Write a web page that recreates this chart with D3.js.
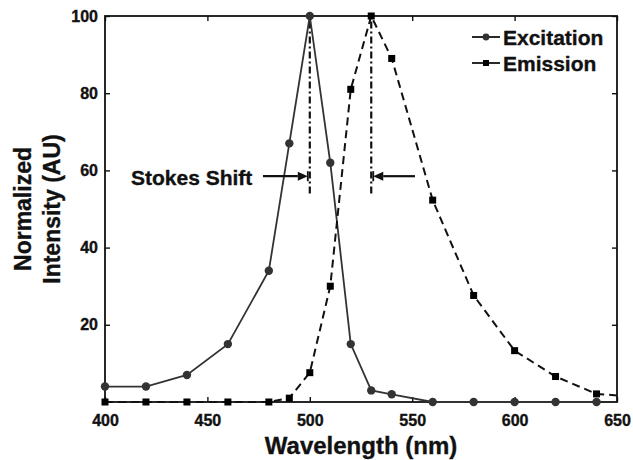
<!DOCTYPE html>
<html>
<head>
<meta charset="utf-8">
<script src="https://cdn.jsdelivr.net/npm/d3@7"></script>
<style>
  html, body { margin: 0; padding: 0; background: #fff; }
  svg { display: block; font-family: "Liberation Sans", Arial, Helvetica, sans-serif; font-weight: bold; }
  svg text { stroke: #111; stroke-width: 0.35px; }
</style>
</head>
<body>
<svg id="chart" width="633" height="460"></svg>
<script>
// ---- data ----
const excitationWavelengths = [400, 420, 440, 460, 480, 490, 500, 510, 520, 530, 540, 560, 580, 600, 620, 640];
const excitationValues      = [4, 4, 7, 15, 34, 67, 100, 62, 15, 3, 2, 0, 0, 0, 0, 0];
const emissionWavelengths   = [400, 420, 440, 460, 480, 490, 500, 510, 520, 530, 540, 560, 580, 600, 620, 640, 660];
const emissionValues        = [0, 0, 0, 0, 0, 1, 7.6, 30, 81, 100, 89, 52.3, 27.6, 13.3, 6.6, 2.1, 1.3];
const xTicks = [400, 450, 500, 550, 600, 650];
const yTicks = [20, 40, 60, 80, 100];
const peakWavelengths = [500, 530];
const peakLineRange = [54, 100];
const arrowLevel = 58.5;
const seriesNames = ["Excitation", "Emission"];
const annotationText = "Stokes Shift";

// ---- layout ----
const svg = d3.select("#chart");
const m = { left: 105, right: 617, top: 16, bottom: 402 };
const x = d3.scaleLinear().domain([400, 650]).range([m.left, m.right]);
const y = d3.scaleLinear().domain([0, 100]).range([m.bottom, m.top]);

const defs = svg.append("defs");
defs.append("clipPath").attr("id", "clip").append("rect")
  .attr("x", m.left).attr("y", m.top - 10).attr("width", m.right - m.left).attr("height", m.bottom - m.top + 20);

// axes (ticks inward)
const tickLen = 5;
const gx = svg.append("g").attr("transform", `translate(0,${m.bottom})`)
  .call(d3.axisBottom(x).tickValues(xTicks).tickSizeInner(-tickLen).tickSizeOuter(0).tickPadding(tickLen + 8));
const gxTop = svg.append("g").attr("transform", `translate(0,${m.top})`)
  .call(d3.axisTop(x).tickValues(xTicks).tickSizeInner(-tickLen).tickSizeOuter(0).tickFormat(""));
const gy = svg.append("g").attr("transform", `translate(${m.left},0)`)
  .call(d3.axisLeft(y).tickValues(yTicks).tickSizeInner(-tickLen).tickSizeOuter(0).tickPadding(tickLen + 2));
const gyR = svg.append("g").attr("transform", `translate(${m.right},0)`)
  .call(d3.axisRight(y).tickValues(yTicks).tickSizeInner(-tickLen).tickSizeOuter(0).tickFormat(""));

[gx, gxTop, gy, gyR].forEach(g => {
  g.select(".domain").remove();
  g.selectAll(".tick line").attr("stroke", "#111").attr("stroke-width", 1.4);
  g.selectAll("text").attr("fill", "#111").style("font-size", "16px").style("font-weight", "bold")
    .style("font-family", '"Liberation Sans", Arial, sans-serif');
});

// frame
svg.append("rect").attr("x", m.left).attr("y", m.top)
  .attr("width", m.right - m.left).attr("height", m.bottom - m.top)
  .attr("fill", "none").attr("stroke", "#111").attr("stroke-width", 1.8);

// axis titles
svg.append("text").attr("x", (m.left + m.right) / 2).attr("y", 454)
  .attr("text-anchor", "middle").style("font-size", "24px").attr("fill", "#111").text("Wavelength (nm)");
const yt = svg.append("text").attr("transform", `translate(31,${(m.top + m.bottom) / 2}) rotate(-90)`)
  .attr("text-anchor", "middle").style("font-size", "23px").attr("fill", "#111");
yt.append("tspan").attr("x", 0).attr("dy", 0).text("Normalized");
yt.append("tspan").attr("x", 0).attr("dy", 29).text("Intensity (AU)");

// data
const exc = excitationWavelengths.map((w, i) => ({ x: w, y: excitationValues[i] }));
const emi = emissionWavelengths.map((w, i) => ({ x: w, y: emissionValues[i] }));
const line = d3.line().x(d => x(d.x)).y(d => y(d.y));

// peak dash-dot lines
peakWavelengths.forEach(p => {
  svg.append("path")
    .attr("d", line(peakLineRange.map(v => ({ x: p, y: v }))))
    .attr("stroke", "#111").attr("stroke-width", 2.2).attr("fill", "none")
    .attr("stroke-dasharray", "7,3,2,3");
});

const plot = svg.append("g");
plot.append("path").attr("d", line(exc)).attr("clip-path", "url(#clip)")
  .attr("fill", "none").attr("stroke", "#333").attr("stroke-width", 1.8);
plot.append("path").attr("d", line(emi)).attr("clip-path", "url(#clip)")
  .attr("fill", "none").attr("stroke", "#111").attr("stroke-width", 2).attr("stroke-dasharray", "8,5");

const inDomain = d => d.x >= 400 && d.x <= 650;
plot.selectAll("circle.exc").data(exc.filter(inDomain)).join("circle")
  .attr("cx", d => x(d.x)).attr("cy", d => y(d.y)).attr("r", 4.2).attr("fill", "#333");
const sq = 7;
plot.selectAll("rect.emi").data(emi.filter(inDomain)).join("rect")
  .attr("x", d => x(d.x) - sq / 2).attr("y", d => y(d.y) - sq / 2)
  .attr("width", sq).attr("height", sq).attr("fill", "#000");

// arrows
function arrow(x1, x2, yy) {
  const dir = Math.sign(x2 - x1);
  const headLen = 10, headW = 4.5;
  svg.append("line").attr("x1", x1).attr("x2", x2 - dir * headLen).attr("y1", yy).attr("y2", yy)
    .attr("stroke", "#111").attr("stroke-width", 2.2);
  svg.append("path")
    .attr("d", `M${x2},${yy} L${x2 - dir * headLen},${yy - headW} L${x2 - dir * headLen},${yy + headW} Z`)
    .attr("fill", "#111");
  svg.append("line").attr("x1", x2).attr("x2", x2).attr("y1", yy - 5).attr("y2", yy + 5)
    .attr("stroke", "#111").attr("stroke-width", 1.8);
}
const ay = y(arrowLevel);
arrow(263, x(peakWavelengths[0]) - 2, ay);
arrow(415, x(peakWavelengths[1]) + 2, ay);

svg.append("text").attr("x", 131).attr("y", 185).style("font-size", "21px").attr("fill", "#111").text(annotationText);

// legend
const lg = svg.append("g");
const legY = [37, 63];
seriesNames.forEach((name, i) => {
  lg.append("line").attr("x1", 472).attr("x2", 500).attr("y1", legY[i]).attr("y2", legY[i])
    .attr("stroke", "#111").attr("stroke-width", 1.8);
  if (i === 0) lg.append("circle").attr("cx", 486).attr("cy", legY[i]).attr("r", 3.4).attr("fill", "#333");
  else lg.append("rect").attr("x", 486 - 3).attr("y", legY[i] - 3).attr("width", 6).attr("height", 6).attr("fill", "#000");
  lg.append("text").attr("x", 503).attr("y", legY[i] + 8).style("font-size", "21px").attr("fill", "#111").text(name);
});
</script>
</body>
</html>
